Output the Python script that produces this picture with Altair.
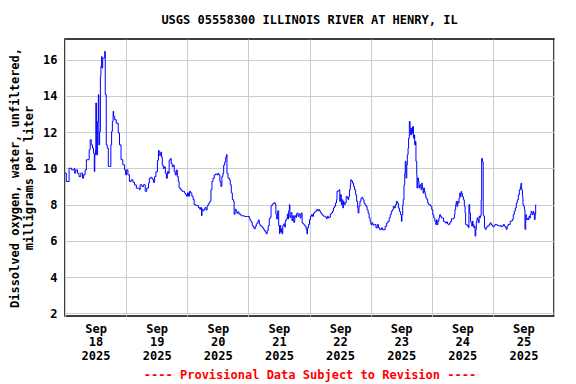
import altair as alt
import pandas as pd

# Hours since 2025-09-18 00:00 and dissolved oxygen (mg/L)
hours = [
    0.0, 0.5, 1.6, 2.6, 3.6, 3.8, 4.2, 4.9, 5.5, 6.2, 6.9, 7.3, 7.9, 8.4, 9.0, 9.5, 9.9, 10.3, 10.8, 11.2,
    11.5, 11.7, 12.0, 12.1, 12.4, 12.8, 13.1, 13.3, 13.6, 13.9, 14.1, 14.4, 14.5, 14.8, 15.0, 15.6, 15.8,
    16.2, 16.6, 17.0, 17.6, 18.0, 18.3, 18.6, 18.9, 19.1, 19.5, 20.1, 20.9, 21.4, 22.0, 22.7, 23.4, 23.8,
    24.2, 24.7, 25.3, 26.0, 26.7, 27.3, 28.0, 28.6, 29.3,
    29.5, 30.2, 30.8, 31.5, 32.1, 32.8, 33.1, 33.7, 34.2, 34.7, 35.2, 35.7, 36.3, 36.7, 37.0, 37.6, 37.9,
    38.2, 38.6, 39.0, 39.4, 39.8, 40.2, 40.6, 40.9, 41.3, 41.7, 42.1, 42.5, 42.9, 43.3, 43.7, 44.1, 44.5,
    44.8, 45.4, 45.9, 46.4, 46.9, 47.3, 47.7, 48.1, 48.5, 48.9, 49.3, 49.8, 50.3, 50.7, 51.2, 51.9, 52.4,
    52.9, 53.2, 53.6, 53.8, 54.2, 54.6, 55.0, 55.4, 55.8, 56.2, 56.5, 56.9, 57.3, 57.7, 58.1, 58.6, 59.1,
    59.7,
    60.0, 60.4, 60.8, 61.2, 61.6, 62.0, 62.3, 62.7, 63.1, 63.5, 63.6, 64.0, 64.6, 64.9, 65.3, 65.7, 66.1,
    66.4, 66.8, 67.2, 67.5, 67.9, 68.3, 68.7, 69.1, 69.8, 70.4, 71.1, 71.7, 72.4, 72.7, 73.1, 73.5, 73.9,
    74.3, 74.7, 75.1, 75.5, 75.9, 76.3, 76.6, 77.0, 77.4, 77.8, 78.2, 78.6, 79.0, 79.4, 79.8, 80.2, 80.5,
    80.9, 81.3, 81.7, 82.1, 82.5, 82.8, 83.1, 83.5, 83.9, 84.2, 84.4, 84.7, 85.0, 85.2, 85.5, 85.9, 86.3,
    86.5, 86.9, 87.3, 87.6, 87.8, 88.1, 88.3, 88.7, 89.1, 89.4, 89.8, 90.2, 90.6, 90.9,
    91.1, 91.5, 91.9, 92.3, 92.7, 93.1, 93.5, 93.9, 94.3, 94.7, 95.0, 95.2, 95.6, 96.0, 96.4, 96.8, 97.2,
    97.6, 98.0, 98.4, 98.8, 99.2, 99.6, 100.0, 100.4, 100.7, 101.1, 101.5, 101.9, 102.3, 102.7, 103.0,
    103.4, 103.8, 104.2, 104.6, 105.0, 105.4, 105.8, 106.2, 106.6, 106.8, 107.2, 107.6, 107.9, 108.1,
    108.5, 108.8, 109.1, 109.3, 109.6, 110.0, 110.4, 110.8, 111.2, 111.4, 111.7, 112.0, 112.2, 112.5,
    112.9, 113.3, 113.7, 114.1, 114.5, 114.9, 115.1, 115.4, 115.8, 116.2, 116.6, 117.0, 117.4, 117.8,
    118.2, 118.6, 119.0, 119.4, 119.8, 120.1, 120.5, 120.9, 121.3,
    121.5, 122.1, 122.6, 123.1, 123.6, 124.2, 124.7, 125.2, 125.7, 126.3, 126.8, 127.3, 127.7, 128.1,
    128.5, 128.9, 129.3, 129.7, 130.1, 130.5, 130.9, 131.3, 131.7, 132.1, 132.3, 132.6, 132.8, 133.1,
    133.4, 133.6, 133.9, 134.2, 134.4, 134.7, 134.9, 135.2, 135.5, 135.7, 136.0, 136.3, 136.5, 136.8,
    137.1, 137.3, 137.6, 137.8, 138.1, 138.2, 138.5, 138.8, 139.0, 139.3, 139.6, 139.8, 140.1, 140.3,
    140.6, 140.9, 141.1, 141.4, 141.7, 142.1, 142.4, 142.8, 143.2, 143.6, 144.0, 144.4, 144.8, 145.2,
    145.6, 145.9, 146.1, 146.4, 146.8, 147.1, 147.4, 147.8, 148.2, 148.6, 149.0, 149.4, 149.8, 150.2,
    150.6, 151.0, 151.4, 151.8,
    152.2, 152.6, 152.9, 153.1, 153.4, 153.6, 153.9, 154.2, 154.4, 154.7, 155.0, 155.2, 155.5, 155.7,
    156.0, 156.4, 156.8, 157.1, 157.3, 157.6, 157.9, 158.1, 158.4, 158.6, 158.9, 159.2, 159.4, 159.7,
    160.0, 160.2, 160.5, 160.7, 161.0, 161.3, 161.5, 161.8, 162.1, 162.3, 162.6, 162.9, 163.1, 163.4,
    163.6, 163.9, 164.2, 164.4, 164.7, 165.0, 165.4, 165.7, 166.1, 166.5, 166.9, 167.3, 167.7, 168.1,
    168.5, 168.9, 169.3, 169.7, 170.1, 170.5, 170.9, 171.3, 171.7, 172.1, 172.5, 172.9, 173.3, 173.6,
    174.0, 174.4, 174.8, 175.2, 175.6, 176.0, 176.4, 176.8, 177.2, 177.6, 178.0, 178.4, 178.8, 179.0,
    179.3, 179.6, 179.8, 180.1, 180.4, 180.6, 180.9, 181.1, 181.4, 181.7, 181.9, 182.2, 182.5, 182.7,
    183.0, 183.2, 183.5, 183.8, 184.0, 184.3, 184.6, 184.8,
]
oxygen = [
    9.74, 9.28, 10.01, 9.92, 10.0, 9.74, 9.92, 9.74, 9.55, 9.74, 9.46, 9.65, 9.92, 10.48, 10.48, 11.03, 11.58,
    11.30, 11.12, 10.84, 9.83, 10.75, 11.03, 13.61, 10.75, 12.59, 14.07, 11.30, 12.04, 15.08, 15.63, 16.18,
    15.54, 16.09, 16.09, 16.46, 14.07, 11.30, 11.12, 10.11, 10.11, 11.30, 12.04, 12.59, 13.15, 12.87, 12.69,
    12.50, 11.95, 11.30, 10.48, 10.2, 9.92, 9.65, 9.92, 9.65, 9.28, 9.37, 9.24, 9.09, 8.91, 8.91, 8.82,
    9.1, 9.0, 9.1, 8.74, 8.92, 9.19, 9.46, 9.51, 9.41, 9.23, 9.55, 9.82, 10.45, 10.99, 10.72, 10.9, 10.63,
    10.18, 10.0, 10.09, 9.73, 9.46, 9.82, 9.73, 10.45, 10.54, 10.27, 10.09, 10.18, 9.82, 9.64, 9.91, 9.55,
    9.28, 8.92, 8.83, 8.74, 8.74, 8.65, 8.56, 8.47, 8.65, 8.47, 8.74, 8.65, 8.47, 8.29, 8.02, 7.96, 7.96,
    7.84, 7.75, 7.84, 7.39, 7.75, 7.66, 7.75, 7.84, 7.71, 7.93, 8.02, 8.1, 8.2, 8.83, 9.28, 9.46, 9.64,
    9.69, 9.64,
    9.73, 9.64, 9.28, 9.01, 9.55, 9.73, 10.18, 10.36, 10.63, 10.77, 9.73, 9.46, 9.37, 9.10, 8.65, 8.29,
    8.20, 7.48, 7.75, 7.66, 7.53, 7.60, 7.48, 7.48, 7.39, 7.39, 7.35, 7.35, 7.35, 7.24, 7.12, 7.03, 6.85,
    6.76, 6.67, 6.81, 6.94, 7.03, 7.15, 6.94, 6.85, 6.81, 6.76, 6.67, 6.58, 6.49, 6.40, 6.58, 6.85, 7.21,
    7.30, 7.93, 8.02, 8.07, 8.11, 8.02, 7.48, 7.21, 7.66, 6.85, 6.40, 6.85, 6.49, 6.67, 6.40, 6.85, 6.94,
    6.76, 7.12, 7.21, 7.48, 7.21, 7.66, 8.0, 7.30, 7.57, 7.12, 7.39, 7.03, 7.39, 7.30, 7.48,
    7.54, 7.36, 7.49, 7.27, 7.54, 7.0, 6.94, 6.87, 6.81, 6.63, 6.39, 6.72, 6.91, 7.18, 7.36, 7.45, 7.36,
    7.54, 7.60, 7.64, 7.73, 7.67, 7.73, 7.64, 7.54, 7.49, 7.42, 7.36, 7.36, 7.31, 7.23, 7.36, 7.27, 7.31,
    7.49, 7.54, 7.64, 7.82, 7.91, 8.09, 8.27, 8.73, 8.77, 8.82, 8.18, 8.55, 8.0, 8.27, 7.82, 8.18, 8.0,
    8.09, 8.46, 8.36, 8.27, 8.46, 8.82, 9.09, 9.37, 9.31, 9.19, 9.0, 8.82, 8.55, 8.18, 7.82, 7.54, 7.91,
    8.18, 8.36, 8.40, 8.27, 8.09, 8.0, 7.91, 7.73, 7.54, 7.27, 7.09, 6.91, 7.0, 6.87, 6.91,
    6.90, 6.72, 6.90, 6.72, 6.62, 6.72, 6.62, 6.62, 6.81, 6.99, 7.08, 7.27, 7.45, 7.63, 7.72, 7.91, 7.82,
    8.0, 8.18, 8.09, 7.82, 7.63, 7.45, 7.08, 7.45, 8.0, 8.28, 9.10, 9.74, 10.39, 9.47, 10.20, 10.75, 11.12,
    11.67, 12.59, 12.22, 11.85, 12.22, 11.94, 12.31, 11.67, 11.85, 11.30, 11.49, 10.39, 9.65, 8.92, 9.47,
    9.28, 8.92, 9.10, 9.01, 8.83, 9.19, 8.92, 8.64, 8.92, 8.73, 8.55, 8.37, 8.28, 8.09, 8.0, 8.0, 7.91,
    7.72, 7.45, 7.27, 7.08, 6.90, 7.17, 6.90, 7.08, 7.27, 7.45, 7.36, 7.27, 7.27, 7.08, 7.05, 6.99, 7.05,
    6.94, 6.90, 6.99, 7.08, 7.23,
    7.22, 7.27, 7.45, 7.73, 8.0, 8.18, 7.91, 8.18, 8.09, 8.36, 8.64, 8.45, 8.73, 8.64, 8.45, 8.27, 7.91,
    7.55, 6.91, 6.91, 6.82, 6.85, 6.73, 8.0, 7.55, 7.09, 7.0, 6.82, 7.09, 6.91, 6.73, 6.82, 6.27, 6.64,
    7.09, 7.27, 7.18, 7.0, 7.36, 7.27, 7.40, 8.27, 10.55, 10.36, 7.45, 7.36, 6.73, 6.64, 6.73, 6.82, 6.82,
    6.91, 7.0, 6.91, 6.82, 6.78, 6.85, 6.91, 6.91, 6.85, 6.85, 6.82, 6.85, 6.78, 6.82, 6.91, 6.82, 6.73,
    6.64, 6.82, 6.91, 6.91, 7.09, 7.09, 7.18, 7.45, 7.64, 7.82, 8.09, 8.27, 8.55, 8.82, 9.0, 9.18, 8.82,
    8.45, 8.0, 7.91, 7.73, 6.64, 7.45, 7.18, 7.18, 7.27, 7.18, 7.36, 7.27, 7.45, 7.64, 7.55, 7.45, 7.64,
    7.55, 7.18, 7.45, 8.0,
]

day_labels = ["18", "19", "20", "21", "22", "23", "24", "25"]
y_ticks = [2, 4, 6, 8, 10, 12, 14, 16]

df = pd.DataFrame({"h": hours, "do": oxygen})

FONT = "DejaVu Sans Mono"
grid_values = [24 * i for i in range(9)]
label_values = [24 * i + 12 for i in range(len(day_labels))]
label_expr = "['Sep', '' + (18 + floor(datum.value / 24)), '2025']"

x_scale = alt.Scale(domain=[0, 192], nice=False, zero=False)
y_scale = alt.Scale(domain=[1.86, 17.14], nice=False, zero=False)

y_axis = alt.Axis(
    values=y_ticks, grid=True, gridColor="#cccccc", gridWidth=1, ticks=False, domain=False,
    labelFont=FONT, labelFontWeight="bold", labelFontSize=12, labelColor="black", labelPadding=8,
    title=["Dissolved oxygen, water, unfiltered,", "milligrams per liter"],
    titleFont=FONT, titleFontWeight="bold", titleFontSize=12, titleColor="black", titlePadding=7,
    titleLineHeight=14,
)

grid_layer = alt.Chart(df).mark_line(opacity=0).encode(
    x=alt.X("h:Q", scale=x_scale, axis=alt.Axis(orient="bottom", values=grid_values, grid=True,
                                                  gridColor="#cccccc", labels=False, ticks=False,
                                                  domain=False, title=None)),
    y=alt.Y("do:Q", scale=y_scale, axis=y_axis),
)

line_layer = alt.Chart(df).mark_line(color="#0000ff", strokeWidth=1, interpolate="step-after").encode(
    x=alt.X("h:Q", scale=x_scale, axis=alt.Axis(
        orient="bottom", values=label_values, grid=False, ticks=False, domain=False, labelExpr=label_expr,
        labelFont=FONT, labelFontWeight="bold", labelFontSize=12, labelColor="black",
        labelLineHeight=13.5, labelPadding=7,
        title="---- Provisional Data Subject to Revision ----", titleFont=FONT, titleFontWeight="bold",
        titleFontSize=12, titleColor="#ff0000", titlePadding=8)),
    y=alt.Y("do:Q", scale=y_scale, axis=y_axis),
)

chart = alt.layer(grid_layer, line_layer).resolve_axis(x="independent").properties(
    width=489, height=277,
    padding={"left": 57, "top": 31, "right": 14, "bottom": 66},
    autosize=alt.AutoSizeParams(type="none"),
    background="white",
    title=alt.TitleParams("USGS 05558300 ILLINOIS RIVER AT HENRY, IL", font=FONT, fontSize=12,
                          fontWeight="bold", color="black", anchor="middle", offset=0,
                          baseline="bottom"),
).configure_view(stroke="black", strokeWidth=1.5)

chart.save("out.html", embed_options={"renderer": "svg", "actions": False})
